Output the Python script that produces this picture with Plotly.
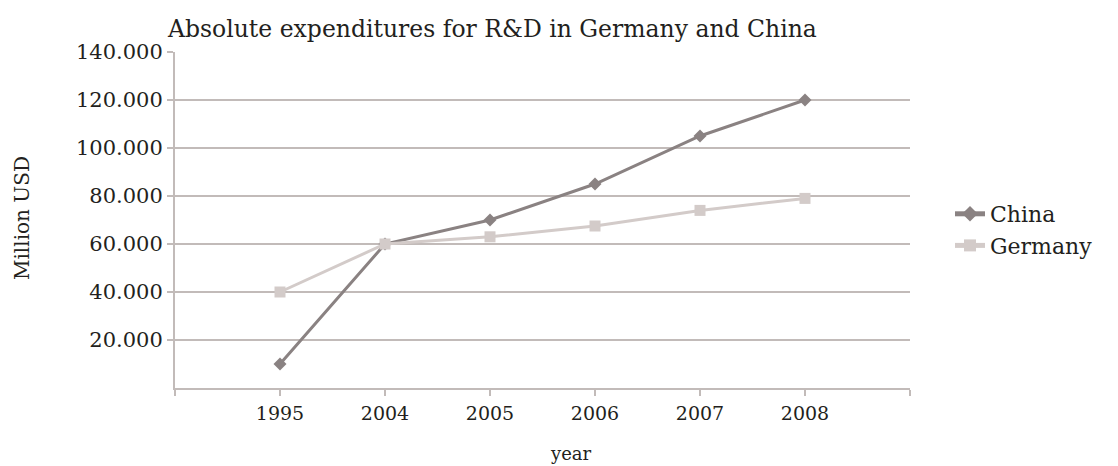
import plotly.graph_objects as go

years = ["1995", "2004", "2005", "2006", "2007", "2008"]
china = [10000, 60000, 70000, 85000, 105000, 120000]
germany = [40000, 60000, 63000, 67500, 74000, 79000]
y_ticks = [20000, 40000, 60000, 80000, 100000, 120000, 140000]
y_tick_text = ["20.000", "40.000", "60.000", "80.000", "100.000", "120.000", "140.000"]

FONT = "DejaVu Serif"
TXT = "#231f20"
AX = "#c2bbb9"

pos = list(range(len(years)))

fig = go.Figure()
fig.add_trace(go.Scatter(x=pos, y=china, name="China", mode="lines+markers",
                         line=dict(color="#8a8282", width=3),
                         marker=dict(symbol="diamond", size=10, color="#8a8282")))
fig.add_trace(go.Scatter(x=pos, y=germany, name="Germany", mode="lines+markers",
                         line=dict(color="#d3cbc9", width=3),
                         marker=dict(symbol="square", size=11, color="#d3cbc9")))

fig.update_layout(
    width=1118, height=466,
    margin=dict(l=175, r=208, t=52, b=78),
    paper_bgcolor="white", plot_bgcolor="white",
    font=dict(family=FONT, size=16, color=TXT),
    showlegend=True,
    legend=dict(x=1 + 40/735, xanchor="left", y=(388-230)/336, yanchor="middle",
                font=dict(size=22, family=FONT, color=TXT),
                tracegroupgap=0, itemsizing="constant"),
    title=dict(text="Absolute expenditures for R&D in Germany and China",
               xref="container", x=168/1118, xanchor="left",
               yref="container", y=1-29/466, yanchor="middle",
               font=dict(size=23.5, family=FONT, color=TXT)),
)
fig.update_xaxes(range=[-1, len(years)], tickmode="array",
                 tickvals=[-1] + pos + [len(years)],
                 ticktext=[""] + years + [""],
                 showgrid=False, zeroline=False, showline=True, linecolor=AX, linewidth=2,
                 ticks="outside", ticklen=6, tickcolor=AX, tickwidth=2,
                 ticklabelstandoff=1, tickfont=dict(size=19))
fig.update_yaxes(range=[0, 140000], tickmode="array", tickvals=y_ticks, ticktext=y_tick_text,
                 showgrid=True, gridcolor=AX, gridwidth=1.5, zeroline=False,
                 showline=True, linecolor=AX, linewidth=2,
                 ticks="outside", ticklen=6, tickcolor=AX, tickwidth=2,
                 tickfont=dict(size=21))
fig.add_annotation(text="Million USD", xref="paper", yref="paper",
                   x=(22-175)/735, y=(388-218)/336, textangle=-90,
                   showarrow=False, xanchor="center", yanchor="middle",
                   font=dict(size=20, family=FONT, color=TXT))
fig.add_annotation(text="year", xref="paper", yref="paper", x=(571-175)/735, y=-(453-388)/336,
                   showarrow=False, xanchor="center", yanchor="middle",
                   font=dict(size=18, family=FONT, color=TXT))

fig.write_html("out.html")
